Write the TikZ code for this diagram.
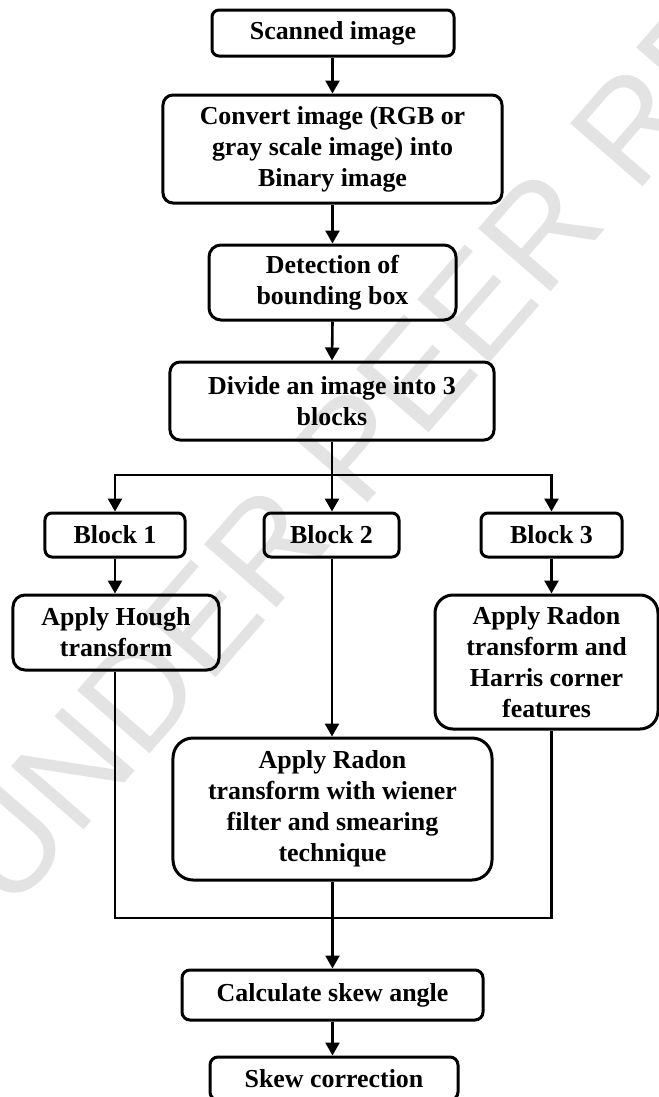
\documentclass[tikz,border=0pt]{standalone}
\usepackage{fontspec}
\setmainfont{Liberation Serif}
\newfontfamily\wmfont{Liberation Sans}
\usetikzlibrary{arrows.meta}
\begin{document}
\begin{tikzpicture}[x=1bp,y=-1bp,
  box/.style={draw=black, line width=3bp, align=center, inner sep=0pt,
    font=\bfseries\fontsize{26}{31}\selectfont},
  arr/.style={line width=2.6bp, -{Triangle[length=13bp,width=14bp]}},
  link/.style={line width=2.6bp}]
\useasboundingbox (0,0) rectangle (659,1097);
\fill[white] (0,0) rectangle (659,1097);
\node[rotate=49, anchor=base west, text=black!11, inner sep=0pt,
  font=\wmfont\fontsize{140}{140}\selectfont] (wm) at (10,915) {UNDER PEER REVIEW};

\node[box, rounded corners=7bp, minimum width=242bp, minimum height=46bp] (scan) at (333,33) {Scanned image};
\node[box, rounded corners=10bp, minimum width=339bp, minimum height=108bp] (conv) at (332.5,149) {Convert image (RGB or\\gray scale image) into\\Binary image};
\node[box, rounded corners=12bp, minimum width=247bp, minimum height=75bp] (det) at (332.5,282.5) {Detection of\\bounding box};
\node[box, rounded corners=10bp, minimum width=324bp, minimum height=78bp] (div) at (332,401) {Divide an image into 3\\blocks};
\node[box, rounded corners=7bp, minimum width=140bp, minimum height=44bp] (b1) at (115,535) {Block 1};
\node[box, rounded corners=7bp, minimum width=135bp, minimum height=44bp] (b2) at (331.5,535) {Block 2};
\node[box, rounded corners=7bp, minimum width=141bp, minimum height=44bp] (b3) at (551.5,535) {Block 3};
\node[box, rounded corners=12bp, minimum width=206bp, minimum height=75bp] (hough) at (116,632.5) {Apply Hough\\transform};
\node[box, rounded corners=18bp, minimum width=223bp, minimum height=134bp] (radon3) at (546.5,662) {Apply Radon\\transform and\\Harris corner\\features};
\node[box, rounded corners=20bp, minimum width=319bp, minimum height=142bp] (radon2) at (332.5,809) {Apply Radon\\transform with wiener\\filter and smearing\\technique};
\node[box, rounded corners=8bp, minimum width=301bp, minimum height=50bp] (calc) at (332.5,995) {Calculate skew angle};
\node[box, rounded corners=8bp, minimum width=248bp, minimum height=43bp, text depth=0pt] (skew) at (334,1078.5) {Skew correction};

\coordinate (split) at (332,475);
\coordinate (merge) at (332,918);

\draw[arr] (scan.south -| conv.north) -- (conv.north);
\draw[arr] (conv.south) -- (det.north);
\draw[arr] (det.south) -- (div.north);
\draw[link] (div.south) -- (split);
\draw[arr] (split) -| (b1.north);
\draw[arr] (split) -| (b3.north);
\draw[arr] (split) -- (split |- b2.north);
\draw[arr] (b1.south) -- (b1.south |- hough.north);
\draw[arr] (b3.south) -- (b3.south |- radon3.north);
\draw[arr] (b2.south -| split) -- (split |- radon2.north);
\draw[link] (hough.south -| b1.south) |- (merge) -| (b3.south |- radon3.south);
\draw[arr] (radon2.south) -- (calc.north);
\draw[arr] (calc.south) -- (calc.south |- skew.north);
\end{tikzpicture}
\end{document}
